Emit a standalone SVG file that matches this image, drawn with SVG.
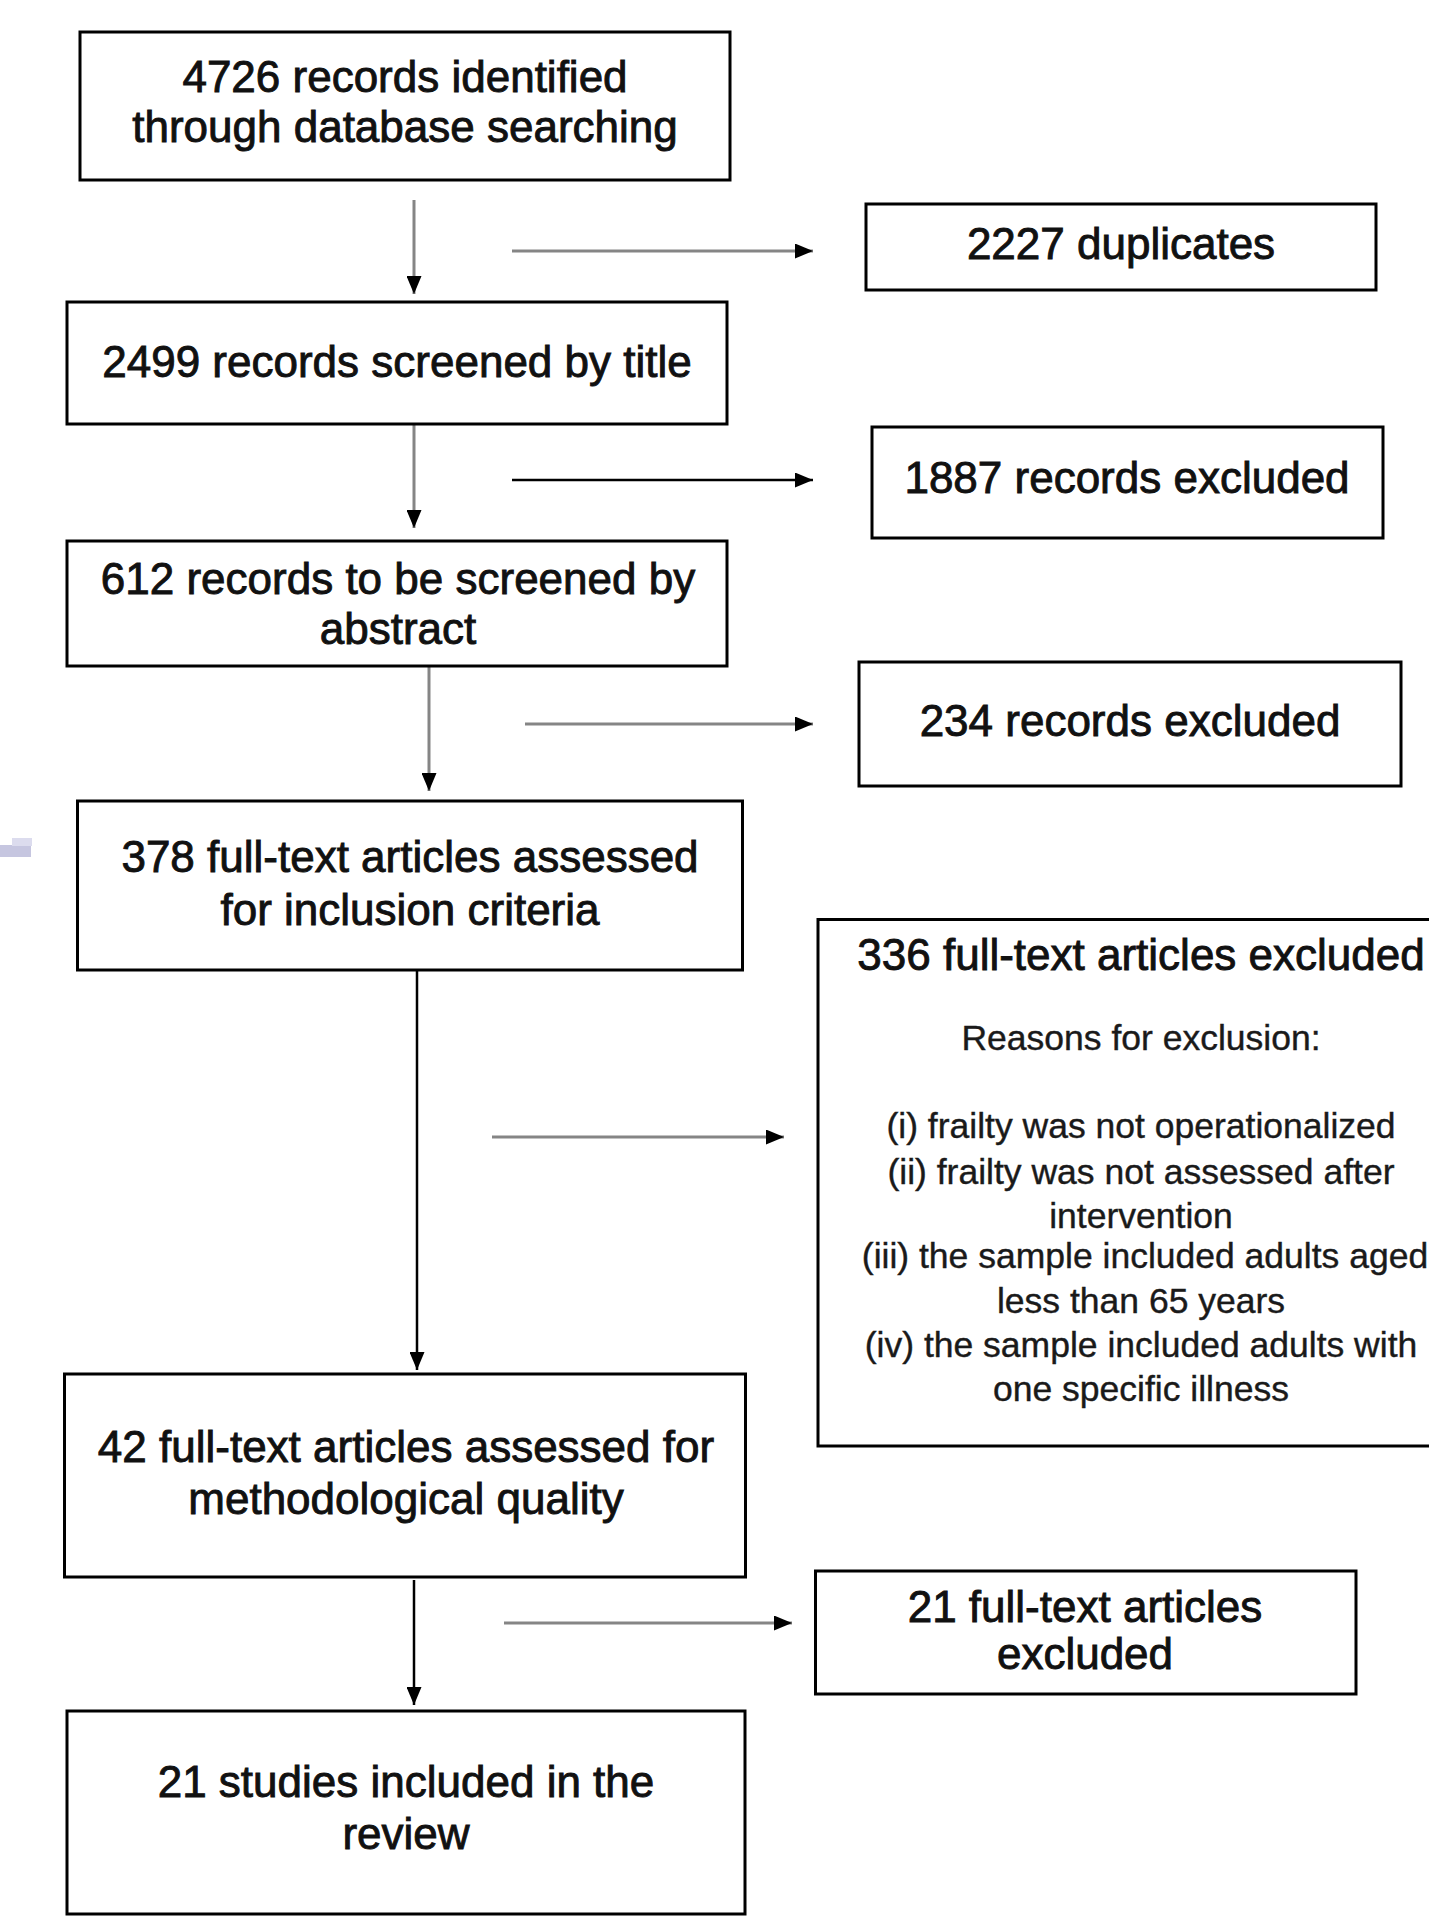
<svg xmlns="http://www.w3.org/2000/svg" width="1429" height="1920" viewBox="0 0 1429 1920">
  <defs>
    <style>
      .box { fill: #ffffff; stroke: #000000; stroke-width: 3; }
      .t { font-family: "Liberation Sans", Arial, sans-serif; font-size: 44px; fill: #111111; text-anchor: middle; stroke: #111111; stroke-width: 0.9; }
      .s { font-family: "Liberation Sans", Arial, sans-serif; font-size: 35.5px; fill: #1a1a1a; text-anchor: middle; stroke: #1a1a1a; stroke-width: 0.4; }
      .gray { stroke: #858585; stroke-width: 3; fill: none; }
      .black { stroke: #000000; stroke-width: 2.5; fill: none; }
    </style>
    <marker id="ah" markerWidth="18" markerHeight="15" refX="18" refY="7.5" orient="auto" markerUnits="userSpaceOnUse">
      <path d="M0,0 L18,7.5 L0,15 Z" fill="#000000"/>
    </marker>
  </defs>
  <rect width="1429" height="1920" fill="#ffffff"/>

  <!-- faint artifact -->
  <g id="smudge">
    <rect x="0" y="845" width="31" height="12" fill="#c6c6e0"/>
    <rect x="12" y="838" width="20" height="8" fill="#dcdcee"/>
  </g>

  <g id="connectors">
    <line class="gray" x1="414" y1="200" x2="414" y2="294" marker-end="url(#ah)"/>
    <line class="gray" x1="512" y1="251" x2="813" y2="251" marker-end="url(#ah)"/>
    <line class="gray" x1="414" y1="424" x2="414" y2="528" marker-end="url(#ah)"/>
    <line class="black" x1="512" y1="480" x2="813" y2="480" marker-end="url(#ah)"/>
    <line class="gray" x1="429" y1="666" x2="429" y2="791" marker-end="url(#ah)"/>
    <line class="gray" x1="525" y1="724" x2="813" y2="724" marker-end="url(#ah)"/>
    <line class="black" x1="417" y1="970" x2="417" y2="1370" marker-end="url(#ah)"/>
    <line class="gray" x1="492" y1="1137" x2="784" y2="1137" marker-end="url(#ah)"/>
    <line class="black" x1="414" y1="1580" x2="414" y2="1705" marker-end="url(#ah)"/>
    <line class="gray" x1="504" y1="1623" x2="792" y2="1623" marker-end="url(#ah)"/>
  </g>

  <g id="n1">
    <rect class="box" x="80" y="32" width="650" height="148"/>
    <text class="t" x="405" y="92">4726 records identified</text>
    <text class="t" x="405" y="142">through database searching</text>
  </g>
  <g id="n2">
    <rect class="box" x="67" y="302" width="660" height="122"/>
    <text class="t" x="397" y="377">2499 records screened by title</text>
  </g>
  <g id="n3">
    <rect class="box" x="67" y="541" width="660" height="125"/>
    <text class="t" x="398" y="594">612 records to be screened by</text>
    <text class="t" x="398" y="644">abstract</text>
  </g>
  <g id="n4">
    <rect class="box" x="77.5" y="801" width="665" height="169"/>
    <text class="t" x="410" y="872">378 full-text articles assessed</text>
    <text class="t" x="410" y="925">for inclusion criteria</text>
  </g>
  <g id="n5">
    <rect class="box" x="64.5" y="1374" width="681" height="203"/>
    <text class="t" x="406" y="1462">42 full-text articles assessed for</text>
    <text class="t" x="406" y="1514">methodological quality</text>
  </g>
  <g id="n6">
    <rect class="box" x="67" y="1711" width="678" height="203"/>
    <text class="t" x="406" y="1797">21 studies included in the</text>
    <text class="t" x="406" y="1849">review</text>
  </g>
  <g id="e1">
    <rect class="box" x="866" y="204" width="510" height="86"/>
    <text class="t" x="1121" y="259">2227 duplicates</text>
  </g>
  <g id="e2">
    <rect class="box" x="872" y="427" width="511" height="111"/>
    <text class="t" x="1127" y="493">1887 records excluded</text>
  </g>
  <g id="e3">
    <rect class="box" x="859" y="662" width="542" height="124"/>
    <text class="t" x="1130" y="736">234 records excluded</text>
  </g>
  <g id="e4">
    <rect class="box" x="818" y="919.5" width="640" height="526.5"/>
    <text class="t" x="1141" y="970">336 full-text articles excluded</text>
    <text class="s" x="1141" y="1050">Reasons for exclusion:</text>
    <text class="s" x="1141" y="1138">(i) frailty was not operationalized</text>
    <text class="s" x="1141" y="1184">(ii) frailty was not assessed after</text>
    <text class="s" x="1141" y="1228">intervention</text>
    <text class="s" x="1145" y="1268">(iii) the sample included adults aged</text>
    <text class="s" x="1141" y="1313">less than 65 years</text>
    <text class="s" x="1141" y="1357">(iv) the sample included adults with</text>
    <text class="s" x="1141" y="1401">one specific illness</text>
  </g>
  <g id="e5">
    <rect class="box" x="815.5" y="1571" width="540.5" height="123"/>
    <text class="t" x="1085" y="1622">21 full-text articles</text>
    <text class="t" x="1085" y="1669">excluded</text>
  </g>
</svg>
